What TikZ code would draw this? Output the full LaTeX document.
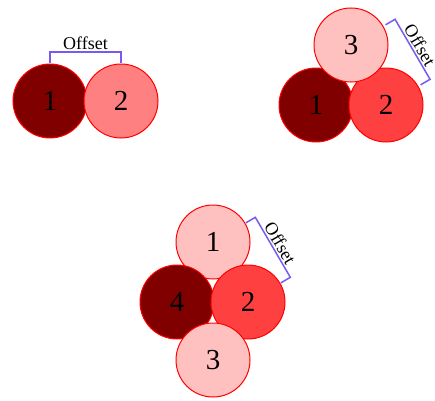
\documentclass[tikz,border=0pt]{standalone}
\usepackage{fontspec}
\setmainfont{Liberation Serif}
\usepackage{tikz}
\usetikzlibrary{positioning,calc}
\definecolor{ballDark}{RGB}{128,0,0}
\definecolor{ballMid}{RGB}{255,64,64}
\definecolor{ballSoft}{RGB}{255,128,128}
\definecolor{ballPale}{RGB}{255,192,192}
\definecolor{gapBlue}{RGB}{120,90,240}

\begin{document}
\begin{tikzpicture}[x=1pt,y=1pt,
    ball/.style={circle,draw=red,line width=1pt,minimum size=74pt,inner sep=0pt,font=\fontsize{29}{30}\selectfont},
    gap/.style={draw=gapBlue,line width=1.5pt},
    gaplabel/.style={font=\fontsize{18}{19}\selectfont,sloped,above,inner sep=1.5pt}]
    \useasboundingbox (0,0) rectangle (435,400);

    % two balls
    \node[ball,fill=ballDark] (A1) at (50,299) {1};
    \node[ball,fill=ballSoft] (A2) at (121,299) {2};
    \draw[gap] ($(A1)!38pt!90:(A2)$) -- ($(A1)!49pt!90:(A2)$)
        -- node[gaplabel] {Offset} ($(A2)!49pt!-90:(A1)$) -- ($(A2)!38pt!-90:(A1)$);

    % three balls
    \node[ball,fill=ballDark] (B1) at (316,295) {1};
    \node[ball,fill=ballMid] (B2) at (386,295) {2};
    \node[ball,fill=ballPale] (B3) at (351,355) {3};
    \draw[gap] ($(B3)!40pt!90:(B2)$) -- ($(B3)!51pt!90:(B2)$)
        -- node[gaplabel] {Offset} ($(B2)!51pt!-90:(B3)$) -- ($(B2)!40pt!-90:(B3)$);

    % four balls
    \node[ball,fill=ballPale] (C1) at (213,158) {1};
    \node[ball,fill=ballDark] (C4) at (177,98) {4};
    \node[ball,fill=ballMid] (C2) at (248,98) {2};
    \node[ball,fill=ballPale] (C3) at (213,40) {3};
    \draw[gap] ($(C1)!38pt!90:(C2)$) -- ($(C1)!49pt!90:(C2)$)
        -- node[gaplabel] {Offset} ($(C2)!49pt!-90:(C1)$) -- ($(C2)!38pt!-90:(C1)$);
\end{tikzpicture}
\end{document}
